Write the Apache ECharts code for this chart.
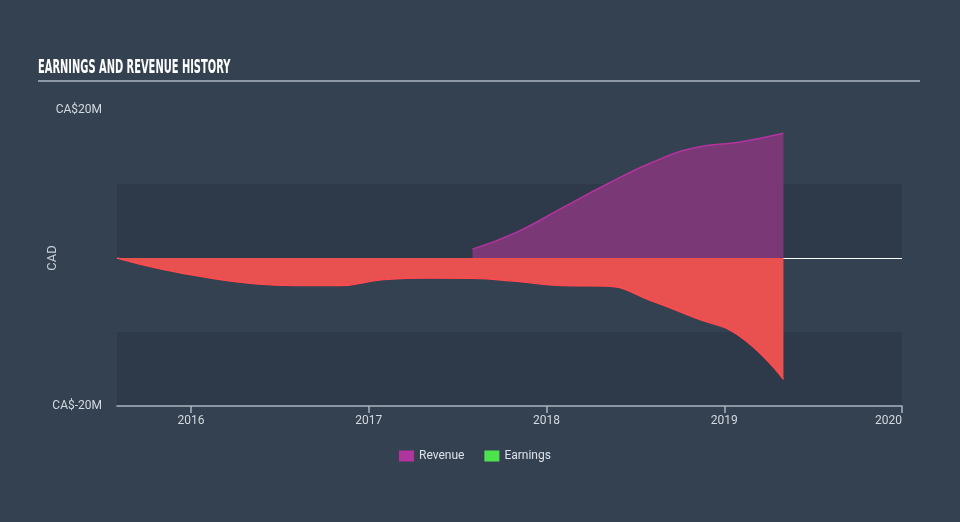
<!DOCTYPE html>
<html>
<head>
<meta charset="utf-8">
<script src="https://cdn.jsdelivr.net/npm/echarts@6/dist/echarts.min.js"></script>
<style>
html,body{margin:0;padding:0;background:#344150;}
#chart{width:960px;height:522px;}
</style>
</head>
<body>
<div id="chart"></div>
<script>
// Data (values in CA$ millions, x as decimal years)
const earningsYears = [2015.583, 2015.833, 2016.083, 2016.333, 2016.583, 2016.833, 2017.083, 2017.333, 2017.583, 2017.833, 2018.083, 2018.333, 2018.583, 2018.833, 2019.083, 2019.333];
const earnings = [0, -1.5, -2.6, -3.4, -3.7, -3.7, -2.9, -2.7, -2.75, -3.15, -3.7, -3.8, -5.7, -8.05, -10.5, -16.4];
const revenueYears = [2017.583, 2017.833, 2018.083, 2018.333, 2018.583, 2018.833, 2019.083, 2019.333];
const revenue = [1.2, 3.5, 6.7, 9.9, 12.8, 14.9, 15.65, 16.85];
const xTicks = [2016, 2017, 2018, 2019, 2020];
const yTickLabels = {"20": "CA$20M", "-20": "CA$-20M"};
const seriesNames = ["Revenue", "Earnings"];

const chart = echarts.init(document.getElementById('chart'), null, {renderer: 'canvas'});
const font = 'Roboto';
chart.setOption({
  backgroundColor: '#344150',
  animation: false,
  textStyle: {fontFamily: font},
  graphic: [
    {type: 'text', x: 38, y: 58, scaleX: 0.55, style: {text: 'EARNINGS AND REVENUE HISTORY', font: 'bold 20px "DejaVu Sans Condensed"', fill: '#ffffff'}},
    {type: 'line', shape: {x1: 38, y1: 81, x2: 920, y2: 81}, style: {stroke: '#aeb7c2', lineWidth: 1.5}}
  ],
  legend: {
    bottom: 55,
    left: 394,
    icon: 'rect',
    itemWidth: 15,
    itemHeight: 11,
    itemGap: 20,
    textStyle: {color: '#dde2e8', fontSize: 12, fontFamily: font},
    data: [
      {name: seriesNames[0], itemStyle: {color: '#b0359e'}},
      {name: seriesNames[1], itemStyle: {color: '#4fe24f'}}
    ]
  },
  grid: {left: 117, right: 58, top: 110, bottom: 116},
  xAxis: {
    type: 'value',
    min: earningsYears[0],
    max: 2020,
    axisLine: {show: true, onZero: false, lineStyle: {color: '#aab4c0', width: 1.5}},
    axisTick: {show: true, customValues: xTicks, length: 7, lineStyle: {color: '#aab4c0', width: 1.5}},
    axisLabel: {customValues: xTicks, color: '#d4d9df', fontSize: 12, margin: 9, alignMaxLabel: 'right', formatter: v => String(Math.round(v))},
    splitLine: {show: false}
  },
  yAxis: {
    type: 'value',
    min: -20,
    max: 20,
    interval: 10,
    name: 'CAD',
    nameLocation: 'middle',
    nameGap: 58,
    nameMoveOverlap: false,
    nameRotate: 90,
    nameTextStyle: {color: '#c8cfd8', fontSize: 13},
    axisLine: {show: false},
    axisTick: {show: false},
    axisLabel: {color: '#d4d9df', fontSize: 12, margin: 15, formatter: v => yTickLabels[String(v)] || ''},
    splitLine: {show: true, lineStyle: {color: ['rgba(0,0,0,0)', 'rgba(0,0,0,0)', '#ffffff', 'rgba(0,0,0,0)', 'rgba(0,0,0,0)'], width: 1}},
    splitArea: {show: true, areaStyle: {color: ['rgba(20,30,45,0.18)', 'rgba(0,0,0,0)']}}
  },
  series: [
    {
      name: seriesNames[0],
      type: 'line',
      data: revenueYears.map((x, i) => [x, revenue[i]]),
      smooth: 0.5,
      symbol: 'none',
      itemStyle: {color: '#b0359e'},
      lineStyle: {color: '#b5339f', width: 1.5},
      areaStyle: {color: '#7a3976', opacity: 1},
      z: 3
    },
    {
      name: seriesNames[1],
      type: 'line',
      data: earningsYears.map((x, i) => [x, earnings[i]]),
      smooth: 0.5,
      symbol: 'none',
      itemStyle: {color: '#4fe24f'},
      lineStyle: {color: '#ff4b4f', width: 1.5},
      areaStyle: {color: '#e95050', opacity: 1},
      z: 3
    }
  ]
});
</script>
</body>
</html>
